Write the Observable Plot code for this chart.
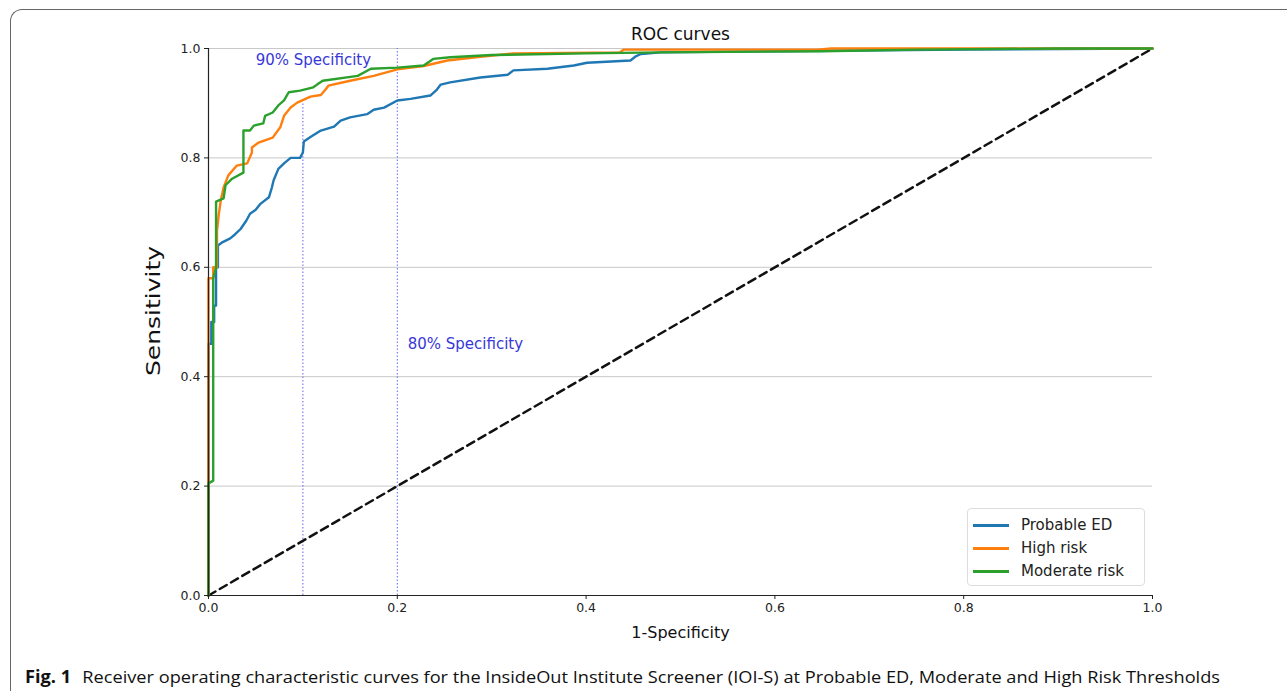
<!DOCTYPE html>
<html>
<head>
<meta charset="utf-8">
<script src="https://cdn.jsdelivr.net/npm/d3@7"></script>
<script src="https://cdn.jsdelivr.net/npm/@observablehq/plot@0.6"></script>
<style>
  html, body { margin: 0; padding: 0; background: #fff; overflow: hidden; }
  #wrap { position: relative; width: 1287px; height: 691px; overflow: hidden; }
  #frame { position: absolute; left: 10px; top: 9px; width: 1320px; height: 720px;
           border-top: 1.5px solid #666; border-left: 1.5px solid #666; border-top-left-radius: 12px; }
  #chart { position: absolute; left: 0; top: 0; }
  #chart g[aria-label$="tick label"] { font-size: 12.5px; }
  #legend { position: absolute; left: 967px; top: 508px; width: 176px; height: 76px;
            border: 1px solid #ddd; border-radius: 4px; background: rgba(255,255,255,0.85);
            font-family: "DejaVu Sans", sans-serif; font-size: 15px; color: #222; }
  .row { position: absolute; left: 0; height: 20px; }
  .sw { position: absolute; left: 5px; top: 9px; width: 36px; height: 2.5px; }
  .lab { position: absolute; left: 53px; top: 0; white-space: nowrap; line-height: 20px; }
  #caption { position: absolute; left: 25px; top: 665px; white-space: nowrap; transform-origin: 0 50%;
             font-family: "Open Sans", sans-serif; font-size: 17px; color: #111; }
  #caption b { font-weight: 700; margin-right: 6px; }
</style>
</head>
<body>
<div id="wrap">
  <div id="frame"></div>
  <div id="chart"></div>
  <div id="legend"></div>
  <div id="caption"><b>Fig. 1</b> Receiver operating characteristic curves for the InsideOut Institute Screener (IOI-S) at Probable ED, Moderate and High Risk Thresholds</div>
</div>
<script>
// ---- Data ----
const seriesNames = ["Probable ED", "High risk", "Moderate risk"];
const seriesColors = ["#1f77b4", "#ff7f0e", "#2ca02c"];

const probableFpr = [0,0,0.003,0.003,0.006,0.006,0.008,0.008,0.01,0.01,0.014,0.023,0.028,0.034,0.04,0.044,0.05,0.055,0.064,0.067,0.069,0.074,0.08,0.087,0.097,0.1,0.101,0.108,0.119,0.133,0.14,0.15,0.168,0.175,0.186,0.2,0.214,0.235,0.242,0.246,0.256,0.288,0.317,0.323,0.359,0.387,0.401,0.447,0.452,0.458,0.479,0.6,0.8,1];
const probableTpr = [0,0.46,0.46,0.50,0.50,0.53,0.53,0.60,0.60,0.64,0.645,0.653,0.66,0.67,0.685,0.698,0.705,0.716,0.728,0.745,0.759,0.78,0.79,0.80,0.80,0.81,0.83,0.838,0.85,0.857,0.868,0.874,0.88,0.888,0.892,0.905,0.908,0.914,0.925,0.934,0.938,0.947,0.952,0.96,0.963,0.969,0.974,0.978,0.985,0.99,0.993,0.995,0.998,1];

const highFpr = [0,0,0.005,0.005,0.009,0.009,0.011,0.013,0.016,0.021,0.03,0.041,0.046,0.046,0.053,0.068,0.076,0.08,0.087,0.094,0.108,0.119,0.124,0.127,0.15,0.175,0.2,0.228,0.253,0.288,0.323,0.436,0.44,0.645,0.66,1];
const highTpr = [0,0.58,0.58,0.60,0.60,0.667,0.698,0.722,0.746,0.768,0.786,0.79,0.81,0.819,0.828,0.837,0.856,0.877,0.892,0.901,0.912,0.915,0.925,0.932,0.941,0.95,0.962,0.968,0.978,0.985,0.991,0.993,0.998,0.998,1,1];

const moderateFpr = [0,0,0.005,0.005,0.008,0.008,0.016,0.018,0.025,0.037,0.037,0.044,0.048,0.058,0.06,0.068,0.074,0.08,0.085,0.097,0.111,0.115,0.121,0.158,0.172,0.2,0.228,0.238,0.256,0.3,0.4,0.479,0.65,0.75,0.9,1];
const moderateTpr = [0,0.205,0.21,0.58,0.60,0.72,0.726,0.75,0.762,0.773,0.85,0.85,0.859,0.863,0.877,0.883,0.896,0.905,0.92,0.923,0.929,0.934,0.941,0.95,0.963,0.965,0.969,0.981,0.984,0.988,0.991,0.993,0.995,0.998,1,1];

const chanceX = [0, 1];
const chanceY = [0, 1];

const specX = [0.1, 0.2];
const specTop = [0.9, 1.0];
const specLabels = ["90% Specificity", "80% Specificity"];
const specLabelX = [0.05, 0.211];
const specLabelY = [0.978, 0.46];

const xTicks = [0, 0.2, 0.4, 0.6, 0.8, 1.0];
const yTicks = [0, 0.2, 0.4, 0.6, 0.8, 1.0];

// ---- Build tables ----
const pts = (xs, ys, s) => xs.map((x, i) => ({x, y: ys[i], s}));
const curves = [
  pts(probableFpr, probableTpr, seriesNames[0]),
  pts(highFpr, highTpr, seriesNames[1]),
  pts(moderateFpr, moderateTpr, seriesNames[2])
];
const chance = pts(chanceX, chanceY, "chance");
const specRules = specX.map((x, i) => ({x, top: specTop[i]}));
const specText = specLabels.map((t, i) => ({t, x: specLabelX[i], y: specLabelY[i]}));

const font = "DejaVu Sans, sans-serif";
const fmt = d3.format(".1f");

const plot = Plot.plot({
  width: 1287,
  height: 660,
  marginLeft: 208,
  marginRight: 135,
  marginTop: 48,
  marginBottom: 65,
  style: {fontFamily: font, fontSize: "12px", color: "#222", background: "transparent"},
  x: {domain: [0, 1]},
  y: {domain: [0, 1]},
  marks: [
    Plot.ruleY(yTicks.filter(d => d > 0), {stroke: "#c8c8c8", strokeWidth: 1}),
    Plot.ruleX(specRules, {x: "x", y1: 0, y2: "top", stroke: "#5555ee", strokeWidth: 1, strokeDasharray: "1.5,2", strokeOpacity: 0.9}),
    Plot.line(chance, {x: "x", y: "y", stroke: "#111", strokeWidth: 2.5, strokeDasharray: "8,5"}),
    ...curves.map((c, i) => Plot.line(c, {x: "x", y: "y", stroke: seriesColors[i], strokeWidth: 2.4})),
    Plot.text(specText, {x: "x", y: "y", text: "t", textAnchor: "start", fill: "#3838d8", fontSize: 15, fontFamily: font}),
    Plot.ruleX([0], {stroke: "#222", strokeWidth: 1.2}),
    Plot.ruleY([0], {stroke: "#222", strokeWidth: 1.2}),
    Plot.axisX({ticks: xTicks, tickFormat: fmt, tickSize: 4, tickPadding: 4, fontSize: 12.5, label: null, color: "#222"}),
    Plot.axisY({ticks: yTicks, tickFormat: fmt, tickSize: 4, tickPadding: 4, fontSize: 12.5, label: null, color: "#222"}),
    Plot.text(["ROC curves"], {frameAnchor: "top", dy: -21, fontSize: 17, fill: "#111", fontFamily: font}),
    Plot.text(["1-Specificity"], {frameAnchor: "bottom", dy: 42, fontSize: 16, fill: "#111", fontFamily: font}),
    Plot.text(["Sensitivity"], {frameAnchor: "left", dx: -55, dy: 54, rotate: -90, textAnchor: "start", fontSize: 20, fill: "#111", fontFamily: font, className: "ylab"})
  ]
});
document.getElementById("chart").appendChild(plot);

// tick label size and stretched rotated y label
d3.select(plot).selectAll('g[aria-label$="tick label"]').attr("font-size", 12.5);
d3.select(plot).selectAll("g.ylab text").attr("textLength", 130).attr("lengthAdjust", "spacingAndGlyphs");

// ---- Legend ----
const legend = document.getElementById("legend");
seriesNames.forEach((name, i) => {
  const row = document.createElement("div");
  row.className = "row";
  row.style.top = (6 + i * 23) + "px";
  row.innerHTML = `<div class="sw" style="background:${seriesColors[i]}"></div><div class="lab">${name}</div>`;
  legend.appendChild(row);
});

// ---- Fit caption to the reference width ----
const cap = document.getElementById("caption");
const w = cap.getBoundingClientRect().width;
cap.style.transform = `scaleX(${1195 / w})`;
</script>
</body>
</html>
